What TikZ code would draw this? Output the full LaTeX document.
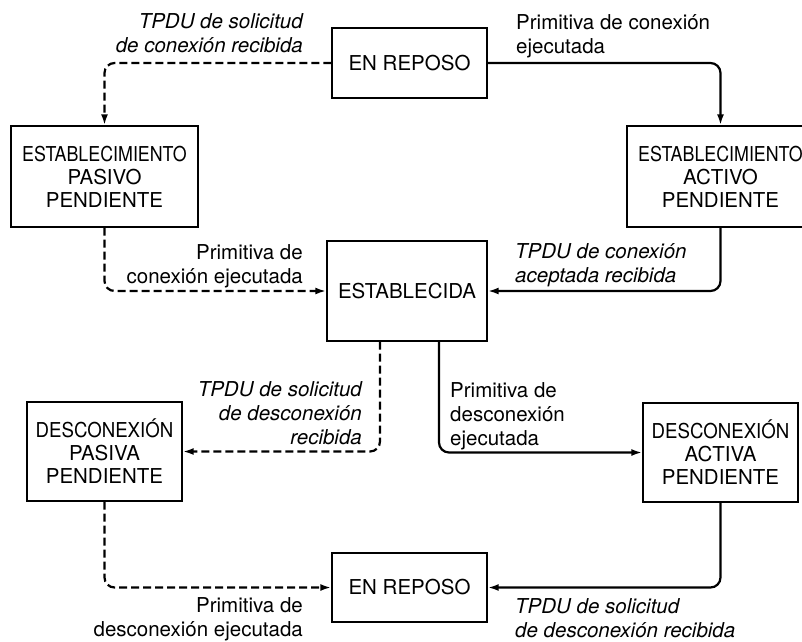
\documentclass[tikz,border=0pt]{standalone}
\usepackage{fontspec}
\setmainfont{TeX Gyre Heros}
\usetikzlibrary{arrows.meta,calc}
\begin{document}
\begin{tikzpicture}[x=1pt,y=-1pt,
  box/.style={draw, line width=1.4pt, inner sep=0pt, align=center, font=\fontsize{20.5}{23}\selectfont},
  lbl/.style={inner sep=0pt, font=\fontsize{20.5}{24}\selectfont},
  ilbl/.style={lbl, font=\fontsize{20.5}{24}\selectfont\itshape},
  solidarrow/.style={line width=2.2pt, rounded corners=10pt, -{Latex[length=11pt,width=7pt]}},
  dasharrow/.style={solidarrow, dash pattern=on 8pt off 4pt}]
\useasboundingbox (0,0) rectangle (802,641);
\fill[white] (0,0) rectangle (802,641);
% states
\node[box, minimum width=155pt, minimum height=70pt] (top) at (409.5,63) {EN REPOSO};
\node[box, minimum width=187pt, minimum height=101pt] (pas) at (104.5,176.5) {\scalebox{0.87}[1]{ESTABLECIMIENTO}\\PASIVO\\PENDIENTE};
\node[box, minimum width=187pt, minimum height=101pt] (act) at (720.5,176.5) {\scalebox{0.87}[1]{ESTABLECIMIENTO}\\ACTIVO\\PENDIENTE};
\node[box, minimum width=160pt, minimum height=100pt] (est) at (407,291) {ESTABLECIDA};
\node[box, minimum width=155pt, minimum height=99pt] (dpas) at (104.5,451.5) {\scalebox{0.91}[1]{DESCONEXIÓN}\\PASIVA\\PENDIENTE};
\node[box, minimum width=155pt, minimum height=99pt] (dact) at (720.5,452.5) {\scalebox{0.91}[1]{DESCONEXIÓN}\\ACTIVA\\PENDIENTE};
\node[box, minimum width=155pt, minimum height=69pt] (bot) at (409.5,587.5) {EN REPOSO};
% connectors
\coordinate (e1) at ($(est.south)+(-27,0)$);
\coordinate (e2) at ($(est.south)+(32,0)$);
\draw[dasharrow] (top.west) -| (pas.north);
\draw[solidarrow] (top.east) -| (act.north);
\draw[dasharrow] (pas.south) |- (est.west);
\draw[solidarrow] (act.south) |- (est.east);
\draw[dasharrow] (e1) |- (dpas.east);
\draw[solidarrow] (e2) |- (dact.west);
\draw[dasharrow] (dpas.south) |- (bot.west);
\draw[solidarrow] (dact.south) |- (bot.east);
% labels
\node[ilbl, anchor=north east, align=right] (l1) at (303,13) {TPDU de solicitud\\de conexión recibida};
\node[lbl, anchor=north west, align=left] (l2) at (516,14) {Primitiva de conexión\\ejecutada};
\node[lbl, anchor=north east, align=right] (l3) at (303,244) {Primitiva de\\conexión ejecutada};
\node[ilbl, anchor=north west, align=left] (l4) at (515,243) {TPDU de conexión\\aceptada recibida};
\node[ilbl, anchor=north east, align=right] (l5) at (362,381) {TPDU de solicitud\\de desconexión\\recibida};
\node[lbl, anchor=north west, align=left] (l6) at (450,382) {Primitiva de\\desconexión\\ejecutada};
\node[lbl, anchor=north east, align=right] (l7) at (303,597) {Primitiva de\\desconexión ejecutada};
\node[ilbl, anchor=north west, align=left] (l8) at (515,598) {TPDU de solicitud\\de desconexión recibida};
\end{tikzpicture}
\end{document}
